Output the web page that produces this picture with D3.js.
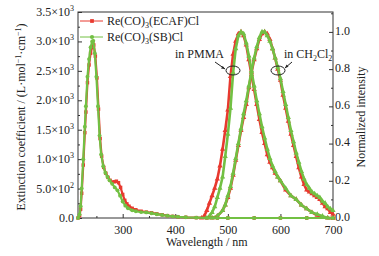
<!DOCTYPE html>
<html>
<head>
<meta charset="utf-8">
<script src="https://cdn.jsdelivr.net/npm/d3@7"></script>
<style>
  body { margin: 0; background: #fff; }
  svg text { font-family: "Times New Roman", "Liberation Serif", Times, serif !important; fill: #222; }
  .axis line { stroke: #333; }
</style>
</head>
<body>
<div id="chart"></div>
<script>
// absorption (extinction coefficient), [wavelength, value]
const absEcaf = [[215,0],[218,40],[220,150],[222,420],[225,900],[228,1450],[230,1800],[233,2300],[236,2600],[239,2800],[242,2900],[245,2940],[248,2750],[251,2380],[254,1850],[257,1350],[260,1050],[264,860],[268,760],[272,690],[276,640],[280,610],[284,615],[288,625],[292,600],[296,520],[300,400],[304,300],[308,240],[312,200],[318,165],[325,140],[335,115],[345,100],[355,88],[365,70],[375,55],[385,40],[395,28],[405,20],[420,12],[440,6],[460,3],[480,0],[500,0],[550,0],[600,0],[650,0],[700,0]];
const absSb = [[215,0],[218,60],[220,200],[222,500],[225,1000],[228,1550],[230,1900],[233,2400],[236,2700],[239,2900],[242,3000],[244,3010],[247,2800],[250,2400],[253,1900],[256,1400],[259,1080],[263,880],[267,770],[271,700],[275,640],[280,580],[285,520],[290,470],[295,380],[300,280],[305,210],[310,165],[318,130],[325,115],[335,100],[345,95],[355,80],[365,65],[375,50],[385,38],[395,28],[405,20],[420,12],[440,6],[460,3],[480,0],[500,0],[550,0],[600,0],[650,0],[700,0]];

// normalized emission
const emPmmaEcaf = [[450,0],[455,0.01],[460,0.04],[465,0.08],[470,0.12],[475,0.16],[480,0.21],[485,0.28],[490,0.37],[495,0.47],[500,0.58],[505,0.76],[510,0.88],[515,0.95],[520,0.99],[525,1.0],[530,0.98],[535,0.93],[540,0.85],[545,0.77],[550,0.69],[555,0.61],[560,0.53],[565,0.46],[570,0.40],[575,0.34],[580,0.30],[585,0.27],[590,0.24],[595,0.22],[600,0.20],[610,0.15],[620,0.12],[630,0.10],[640,0.07],[650,0.05],[660,0.03],[670,0.015],[680,0.005],[690,0],[700,0]];
const emPmmaSb = [[460,0],[465,0.01],[470,0.03],[475,0.06],[480,0.11],[485,0.16],[490,0.22],[495,0.33],[500,0.45],[505,0.59],[510,0.78],[515,0.91],[520,0.98],[525,1.0],[530,0.99],[535,0.94],[540,0.87],[545,0.79],[550,0.71],[555,0.63],[560,0.56],[565,0.49],[570,0.43],[575,0.37],[580,0.32],[585,0.28],[590,0.25],[595,0.22],[600,0.20],[610,0.16],[620,0.12],[630,0.10],[640,0.07],[650,0.05],[660,0.03],[670,0.02],[680,0.01],[690,0],[700,0]];
const emDcmEcaf = [[470,0],[480,0.01],[490,0.04],[495,0.07],[500,0.11],[505,0.16],[510,0.23],[515,0.31],[520,0.39],[525,0.47],[530,0.54],[535,0.61],[540,0.70],[545,0.78],[550,0.85],[555,0.91],[560,0.96],[565,0.99],[570,1.0],[575,0.99],[580,0.96],[585,0.91],[590,0.86],[595,0.80],[600,0.74],[605,0.66],[610,0.59],[615,0.52],[620,0.45],[625,0.39],[630,0.33],[635,0.27],[640,0.22],[645,0.18],[650,0.15],[655,0.14],[660,0.13],[665,0.12],[670,0.11],[675,0.10],[680,0.08],[685,0.06],[690,0.05],[695,0.03],[700,0.02]];
const emDcmSb = [[470,0],[480,0.01],[490,0.04],[495,0.07],[500,0.12],[505,0.17],[510,0.24],[515,0.32],[520,0.40],[525,0.48],[530,0.56],[535,0.63],[540,0.71],[545,0.79],[550,0.86],[555,0.92],[560,0.97],[565,1.0],[570,1.0],[575,0.98],[580,0.95],[585,0.91],[590,0.86],[595,0.81],[600,0.75],[605,0.68],[610,0.61],[615,0.54],[620,0.47],[625,0.41],[630,0.35],[635,0.30],[640,0.25],[645,0.21],[650,0.18],[655,0.16],[660,0.14],[665,0.13],[670,0.12],[675,0.11],[680,0.09],[685,0.08],[690,0.06],[695,0.05],[700,0.04]];

const xTicks = [300, 400, 500, 600, 700];
const yLeftTicks = [0, 500, 1000, 1500, 2000, 2500, 3000, 3500];
const yLeftLabels = ["0.0", "5.0\u00d710|2", "1.0\u00d710|3", "1.5\u00d710|3", "2.0\u00d710|3", "2.5\u00d710|3", "3.0\u00d710|3", "3.5\u00d710|3"];
const yRightTicks = [0, 0.2, 0.4, 0.6, 0.8, 1.0];
const legendNames = [["Re(CO)", "3", "(ECAF)Cl"], ["Re(CO)", "3", "(SB)Cl"]];

const red = "#e8392f", green = "#72c043";
const serif = "'Times New Roman', 'Liberation Serif', Times, serif";

const width = 379, height = 256;
const margin = {top: 12, right: 46, bottom: 38, left: 78};
const w = width - margin.left - margin.right,
      h = height - margin.top - margin.bottom;

const svg = d3.select("#chart").append("svg")
    .attr("width", width).attr("height", height)
    .attr("font-family", serif);
const g = svg.append("g").attr("transform", `translate(${margin.left},${margin.top})`);

const x = d3.scaleLinear([215, 700], [0, w]);
const yL = d3.scaleLinear([0, 3500], [h, 0]);
const yR = d3.scaleLinear([0, 1.107], [h, 0]);

// frame
g.append("rect").attr("width", w).attr("height", h)
  .attr("fill", "none").attr("stroke", "#333");

// axes with inward ticks
g.append("g").attr("class", "axis").attr("transform", `translate(0,${h})`)
  .call(d3.axisBottom(x).tickValues(xTicks).tickSizeInner(-4).tickSizeOuter(0).tickPadding(7));
g.append("g").attr("class", "axis").attr("transform", `translate(0,${h})`)
  .call(d3.axisBottom(x).tickValues([250, 350, 450, 550, 650]).tickSizeInner(-2).tickSizeOuter(0).tickFormat(""));

g.append("g").attr("class", "axis")
  .call(d3.axisLeft(yL).tickValues(yLeftTicks).tickSizeInner(-4).tickSizeOuter(0).tickFormat(""));
g.append("g").attr("class", "axis")
  .call(d3.axisLeft(yL).tickValues(d3.range(250, 3500, 500)).tickSizeInner(-2).tickSizeOuter(0).tickFormat(""));

const rightAxis = g.append("g").attr("class", "axis").attr("transform", `translate(${w},0)`)
  .call(d3.axisRight(yR).tickValues(yRightTicks).tickSizeInner(-4).tickSizeOuter(0).tickFormat(d3.format(".1f")));
g.append("g").attr("class", "axis").attr("transform", `translate(${w},0)`)
  .call(d3.axisRight(yR).tickValues([0.1, 0.3, 0.5, 0.7, 0.9, 1.1]).tickSizeInner(-2).tickSizeOuter(0).tickFormat(""));

g.selectAll(".axis path").remove();
g.selectAll(".axis").attr("font-family", serif);
g.selectAll(".axis text").style("font-size", "12px").attr("fill", "#222");
rightAxis.selectAll("text").attr("x", 2).attr("dy", "0.2em");

// left tick labels with superscripts
yLeftTicks.forEach((v, i) => {
  const parts = yLeftLabels[i].split("|");
  const t = g.append("text").attr("x", -4).attr("y", yL(v) + 4)
    .attr("text-anchor", "end").style("font-size", "12px");
  t.append("tspan").text(parts[0]);
  if (parts[1]) t.append("tspan").attr("dy", -5).style("font-size", "8px").text(parts[1]);
});

// series
const line = yS => d3.line().x(d => x(d[0])).y(d => yS(d[1]));

function drawSeries(data, yS, color, shape, sw) {
  g.append("path").datum(data).attr("d", line(yS))
    .attr("fill", "none").attr("stroke", color).attr("stroke-width", sw);
  const sym = d3.symbol().type(shape).size(12);
  g.selectAll(null).data(data).enter().append("path")
    .attr("d", sym)
    .attr("transform", d => `translate(${x(d[0])},${yS(d[1])})`)
    .attr("fill", color);
}

drawSeries(emPmmaEcaf, yR, red, d3.symbolTriangle, 2.6);
drawSeries(emDcmEcaf, yR, red, d3.symbolTriangle, 2.6);
drawSeries(emPmmaSb, yR, green, d3.symbolTriangle, 2.6);
drawSeries(emDcmSb, yR, green, d3.symbolTriangle, 2.6);
drawSeries(absEcaf, yL, red, d3.symbolSquare, 2.2);
drawSeries(absSb, yL, green, d3.symbolCircle, 2.2);

// legend
[[red, d3.symbolSquare], [green, d3.symbolCircle]].forEach((s, i) => {
  const ly = 9 + i * 16;
  g.append("line").attr("x1", 2).attr("x2", 25).attr("y1", ly).attr("y2", ly)
    .attr("stroke", s[0]).attr("stroke-width", 1);
  g.append("path").attr("d", d3.symbol().type(s[1]).size(14))
    .attr("transform", `translate(14,${ly})`).attr("fill", s[0]);
  const t = g.append("text").attr("x", 29).attr("y", ly + 4).style("font-size", "12px");
  t.append("tspan").text(legendNames[i][0]);
  t.append("tspan").attr("dy", 3).style("font-size", "8px").text(legendNames[i][1]);
  t.append("tspan").attr("dy", -3).text(legendNames[i][2]);
});

// annotations
g.append("text").attr("x", 97).attr("y", 46).style("font-size", "12px").text("in PMMA");
g.append("ellipse").attr("cx", 155).attr("cy", 58.5).attr("rx", 7).attr("ry", 4.5)
  .attr("fill", "none").attr("stroke", "#222");
g.append("line").attr("x1", 137).attr("y1", 50).attr("x2", 147).attr("y2", 57).attr("stroke", "#222");
g.append("path").attr("d", "M147,57 l-4,-0.5 l1.8,-2.6 z").attr("fill", "#222");

const t2 = g.append("text").attr("x", 206).attr("y", 46).style("font-size", "12px");
t2.append("tspan").text("in CH");
t2.append("tspan").attr("dy", 3).style("font-size", "8px").text("2");
t2.append("tspan").attr("dy", -3).text("Cl");
t2.append("tspan").attr("dy", 3).style("font-size", "8px").text("2");
g.append("ellipse").attr("cx", 200).attr("cy", 58.5).attr("rx", 7).attr("ry", 4.5)
  .attr("fill", "none").attr("stroke", "#222");
g.append("line").attr("x1", 214).attr("y1", 50).attr("x2", 207).attr("y2", 56).attr("stroke", "#222");
g.append("path").attr("d", "M207,56 l1.5,-3.6 l2,2.4 z").attr("fill", "#222");

// axis titles
svg.append("text").attr("x", margin.left + x(460)).attr("y", 246)
  .attr("text-anchor", "middle").style("font-size", "12px").text("Wavelength / nm");

const yt = svg.append("text")
  .attr("transform", `translate(25,${margin.top + h / 2 + 2}) rotate(-90)`)
  .attr("text-anchor", "middle").style("font-size", "12px");
yt.append("tspan").text("Extinction coefficient  / (L\u00b7mol");
yt.append("tspan").attr("dy", -4).style("font-size", "8px").text("\u22121");
yt.append("tspan").attr("dy", 4).text("\u00b7cm");
yt.append("tspan").attr("dy", -4).style("font-size", "8px").text("\u22121");
yt.append("tspan").attr("dy", 4).text(")");

svg.append("text")
  .attr("transform", `translate(365,${margin.top + 105}) rotate(-90)`)
  .attr("text-anchor", "middle").style("font-size", "12px").text("Normalized intensity");
</script>
</body>
</html>
